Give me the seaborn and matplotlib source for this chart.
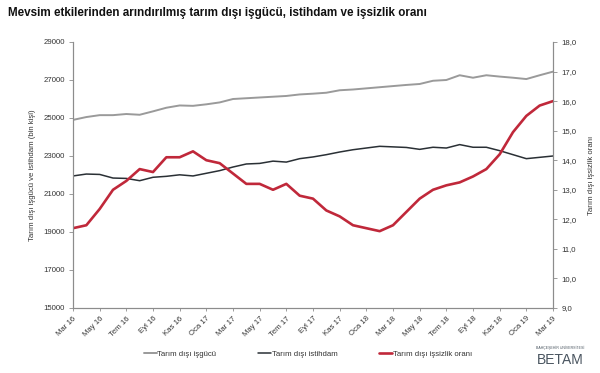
import numpy as np
import pandas as pd
import matplotlib
matplotlib.use("Agg")
import matplotlib.pyplot as plt
import seaborn as sns
from matplotlib.ticker import FuncFormatter

sns.set_theme(style="white")
plt.rcParams['font.family'] = ['Liberation Sans', 'DejaVu Sans']

months = ["Mar", "Nis", "May", "Haz", "Tem", "Ağu", "Eyl", "Eki", "Kas", "Ara", "Oca", "Şub"]

labor_force = [24900, 25050, 25150, 25150, 25210, 25170, 25350, 25540, 25660, 25640,
               25720, 25820, 26000, 26040, 26080, 26120, 26160, 26240, 26280, 26330,
               26460, 26500, 26560, 26620, 26680, 26740, 26790, 26960, 27000, 27250,
               27120, 27250, 27180, 27120, 27050, 27250, 27440]
employment = [21950, 22050, 22030, 21840, 21820, 21700, 21880, 21930, 22010, 21950,
              22090, 22230, 22420, 22580, 22610, 22730, 22680, 22860, 22950, 23070,
              23210, 23330, 23420, 23510, 23480, 23450, 23350, 23460, 23420, 23600,
              23460, 23460, 23280, 23070, 22860, 22930, 23000]
unemployment = [11.7, 11.8, 12.35, 13.0, 13.3, 13.7, 13.6, 14.1, 14.1, 14.3,
                14.0, 13.9, 13.55, 13.2, 13.2, 13.0, 13.2, 12.8, 12.7, 12.3,
                12.1, 11.8, 11.7, 11.6, 11.8, 12.25, 12.7, 13.0, 13.15, 13.25,
                13.45, 13.7, 14.2, 14.95, 15.5, 15.85, 16.0]

# month labels Mar 16 .. Mar 19
labels = []
y = 16
mi = 0
for k in range(len(labor_force)):
    labels.append(f"{months[mi]} {y}")
    mi = (mi + 1) % 12
    if mi == 10:
        y += 1

df = pd.DataFrame({"idx": np.arange(len(labor_force)), "label": labels,
                   "lf": labor_force, "emp": employment, "ur": unemployment})

fig = plt.figure(figsize=(6.0, 3.73), dpi=100)
ax = fig.add_axes([73/600, (373-308)/373, 480/600, 266/373])
ax2 = ax.twinx()

c_gray = "#9a9a9a"
c_black = "#2a3035"
c_red = "#c0283a"
c_axis = "#8c8c8c"

sns.lineplot(data=df, x="idx", y="lf", ax=ax, color=c_gray, linewidth=1.4, label="Tarım dışı işgücü", legend=False)
sns.lineplot(data=df, x="idx", y="emp", ax=ax, color=c_black, linewidth=1.1, label="Tarım dışı istihdam", legend=False)
sns.lineplot(data=df, x="idx", y="ur", ax=ax2, color=c_red, linewidth=1.9, label="Tarım dışı işsizlik oranı", legend=False)

ax.set_xlim(0, len(labor_force) - 1)
ax.set_ylim(15000, 29000)
ax2.set_ylim(9, 18)
ax.set_yticks(np.arange(15000, 29001, 2000))
ax2.set_yticks(np.arange(9, 18.01, 1))
ax2.yaxis.set_major_formatter(FuncFormatter(lambda v, p: f"{v:.1f}".replace(".", ",")))

tick_idx = list(range(0, len(labor_force), 2))
ax.set_xticks(tick_idx)
ax.set_xticklabels([labels[i] for i in tick_idx], rotation=45, ha="right", rotation_mode="anchor",
                   fontsize=5.6, color="#333333")
ax.tick_params(axis="x", length=2, width=0.6, color=c_axis, pad=3, bottom=True)
ax.tick_params(axis="y", labelsize=5.6, labelcolor="#333333", length=3, width=0.6, color=c_axis, left=True, pad=3)
ax2.tick_params(axis="y", labelsize=5.6, labelcolor="#333333", length=3, width=0.6, color=c_axis, right=True, pad=3)

for a in (ax, ax2):
    a.spines["top"].set_visible(False)
    for s in ("left", "right", "bottom"):
        a.spines[s].set_color(c_axis)
        a.spines[s].set_linewidth(0.8)
    a.grid(False)

ax.set_xlabel("")
ax.set_ylabel("Tarım dışı işgücü ve istihdam (bin kişi)", fontsize=5.6, color="#333333", labelpad=5)
ax2.set_ylabel("Tarım dışı işsizlik oranı", fontsize=5.6, color="#333333", rotation=90, labelpad=8)

fig.text(8/600, 1 - 13/373, "Mevsim etkilerinden arındırılmış tarım dışı işgücü, istihdam ve işsizlik oranı",
         fontsize=8.4, fontweight="bold", color="#111111", va="center", ha="left")

handles = ax.get_lines()[:2] + ax2.get_lines()[:1]
leg = fig.legend(handles, [h.get_label() for h in handles], loc="center", bbox_to_anchor=(308/600, 1 - 354/373),
                 ncol=3, frameon=False, fontsize=5.6, handlelength=1.6, handletextpad=0.1, columnspacing=5.4)
for t in leg.get_texts():
    t.set_color("#333333")

fig.text(560/600, 1 - 360/373, "BETAM", fontsize=10, color="#4a5560", ha="center", va="center")
fig.text(560/600, 1 - 348/373, "BAHÇEŞEHİR ÜNİVERSİTESİ", fontsize=2.5, color="#4a5560", ha="center", va="center")

fig.savefig("out.png", dpi=100)
